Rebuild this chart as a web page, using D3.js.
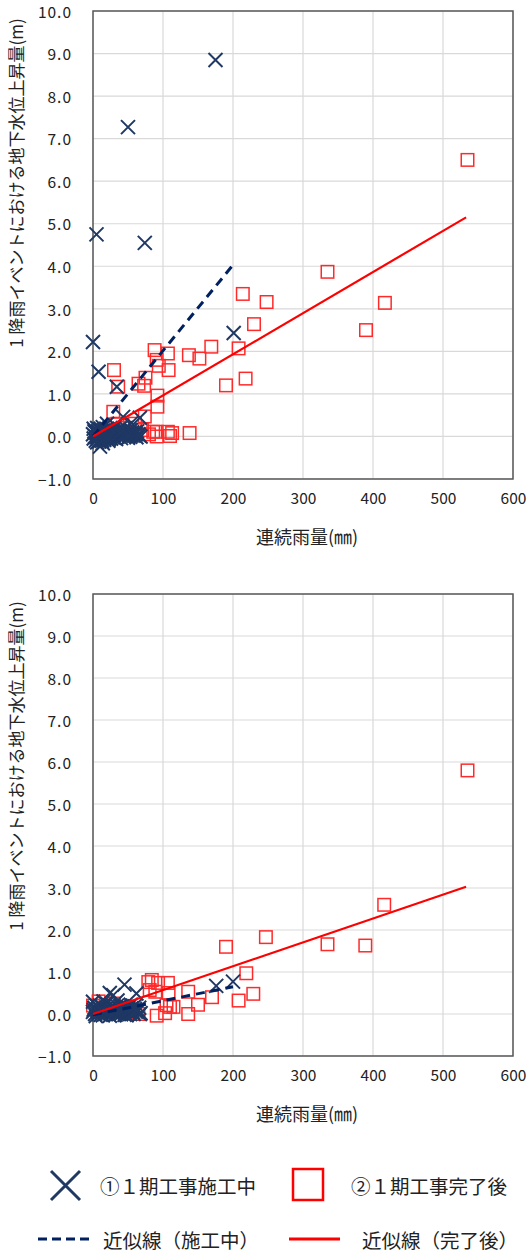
<!DOCTYPE html>
<html>
<head>
<meta charset="utf-8">
<script src="https://cdn.jsdelivr.net/npm/d3@7"></script>
<style>
  body { margin: 0; background: #fff; }
  svg { display: block; font-family: "Noto Sans CJK JP", "Noto Sans", sans-serif; }
</style>
</head>
<body>
<div id="chart"></div>
<script>
// values: [連続雨量 mm, 上昇量 m]
const xTicks = [0, 100, 200, 300, 400, 500, 600]
const yTicks = [-1, 0, 1, 2, 3, 4, 5, 6, 7, 8, 9, 10]

// upper chart, ① during construction (x markers)
const upperDuring = [
  [175, 8.85], [50, 7.27], [5, 4.75], [74, 4.55], [0, 2.22], [8, 1.52], [201, 2.43], [34, 1.17],
  [67, 0.44], [43, 0.46], [55, 0.32], [10, -0.24], [20, 0.3],
  [0, 0.05], [1, -0.05], [2, 0.12], [3, 0.0], [4, -0.1], [5, 0.08], [6, 0.2], [7, -0.02], [8, 0.05],
  [9, -0.12], [10, 0.15], [11, 0.02], [12, -0.05], [13, 0.1], [14, 0.22], [15, 0.0], [16, -0.08],
  [17, 0.06], [18, 0.16], [19, -0.03], [21, 0.04], [22, -0.1], [23, 0.12], [24, 0.0], [25, 0.2],
  [26, -0.05], [27, 0.08], [28, 0.15], [29, -0.02], [30, 0.05], [32, 0.25], [33, -0.06], [35, 0.1],
  [36, 0.02], [38, 0.18], [40, -0.04], [41, 0.07], [43, 0.12], [45, 0.0], [47, 0.2], [48, 0.05],
  [50, -0.03], [52, 0.1], [54, 0.15], [55, 0.02], [57, 0.06], [60, 0.1], [62, -0.02], [65, 0.05],
  [68, 0.0], [14, -0.16], [6, -0.14],
  [1, 0.18], [3, 0.1], [5, -0.02], [7, 0.12], [9, 0.03], [11, 0.18], [13, -0.1], [15, 0.14],
  [17, -0.04], [19, 0.08], [21, 0.16], [23, -0.06], [25, 0.04], [27, 0.14], [29, 0.1], [31, -0.04],
  [34, 0.04], [37, 0.08], [39, 0.12], [42, 0.02], [44, 0.16], [46, 0.06], [49, 0.12], [51, 0.04],
  [53, -0.01], [56, 0.1], [58, 0.02], [61, 0.05], [63, 0.12], [66, 0.02]
]
// upper chart, ② after completion (squares)
const upperAfter = [
  [535, 6.5], [335, 3.87], [417, 3.14], [390, 2.5], [214, 3.35], [248, 3.16], [230, 2.64], [208, 2.07],
  [169, 2.11], [137, 1.91], [152, 1.83], [88, 2.03], [107, 1.95], [91, 1.8], [94, 1.66], [108, 1.56],
  [30, 1.56], [190, 1.2], [218, 1.36], [36, 1.17], [65, 1.24], [75, 1.38], [73, 1.19], [92, 0.96],
  [92, 0.7], [138, 0.08], [107, 0.11], [110, 0.01], [91, 0.11], [91, 0.0], [29, 0.58], [74, 0.47],
  [86, 0.11], [113, 0.08], [20, 0.1], [45, 0.2], [60, 0.3], [50, 0.05], [70, 0.15], [10, 0.0],
  [80, 0.05], [35, 0.3]
]
const upperTrendDuring = [[0, 0], [200, 4.03]]
const upperTrendAfter = [[0, 0], [533, 5.15]]

// lower chart
const lowerDuring = [
  [176, 0.67], [200, 0.77], [45, 0.7], [29, 0.45], [62, 0.49], [24, 0.5], [0, 0.29],
  [0, 0.05], [2, 0.15], [4, -0.05], [6, 0.1], [8, 0.0], [10, 0.2], [12, 0.05], [14, -0.03],
  [16, 0.12], [18, 0.02], [20, 0.25], [22, 0.08], [24, -0.04], [26, 0.15], [28, 0.03], [30, 0.1],
  [32, -0.02], [34, 0.2], [36, 0.06], [38, 0.12], [40, 0.0], [42, 0.18], [44, 0.05], [46, 0.1],
  [48, -0.03], [50, 0.15], [52, 0.04], [54, 0.22], [56, 0.08], [58, 0.0], [60, 0.12], [63, 0.05],
  [66, 0.15], [68, 0.02], [15, 0.3], [35, 0.32],
  [1, 0.1], [3, 0.0], [5, 0.2], [7, 0.06], [9, 0.14], [11, -0.02], [13, 0.18], [15, 0.08],
  [17, 0.0], [19, 0.14], [21, 0.02], [23, 0.2], [25, 0.06], [27, 0.1], [29, 0.18], [31, 0.04],
  [33, 0.12], [37, 0.0], [39, 0.2], [41, 0.08], [43, 0.12], [45, -0.02], [47, 0.16], [49, 0.06],
  [51, 0.1], [53, 0.0], [55, 0.14], [57, 0.04], [59, 0.18], [61, 0.06], [64, 0.1], [67, 0.0]
]
const lowerAfter = [
  [535, 5.8], [416, 2.6], [247, 1.83], [190, 1.6], [335, 1.66], [389, 1.63], [219, 0.97], [229, 0.48],
  [208, 0.32], [170, 0.4], [150, 0.22], [136, 0.53], [136, 0.0], [107, 0.74], [93, 0.74], [84, 0.81],
  [110, 0.17], [79, 0.76], [81, 0.57], [89, 0.53], [108, 0.5], [105, 0.21], [115, 0.17], [103, 0.02],
  [91, -0.04], [8, 0.3], [0, 0.2], [20, 0.05], [40, 0.15], [55, 0.1], [65, 0.0], [30, 0.25], [12, 0.1]
]
const lowerTrendDuring = [[0, -0.02], [200, 0.65]]
const lowerTrendAfter = [[0, 0], [533, 3.03]]

const yTitle = "1 降雨イベントにおける地下水位上昇量(m)"
const xTitle = "連続雨量(㎜)"
const legendLabels = ["①１期工事施工中", "②１期工事完了後", "近似線（施工中）", "近似線（完了後）"]

const navy = "#1f3864"
const red = "#ff2a2a"

const width = 529
const height = 1256
const svg = d3.select("#chart").append("svg")
  .attr("width", width)
  .attr("height", height)

svg.append("rect").attr("width", width).attr("height", height).attr("fill", "#fff")

const x = d3.scaleLinear().domain([0, 600]).range([93, 513])

function drawChart(top, bottom, during, after, trendDuring, trendAfter) {
  const y = d3.scaleLinear().domain([-1, 10]).range([bottom, top])
  const g = svg.append("g")

  // grid
  g.append("g").selectAll("line.h").data(yTicks).join("line")
    .attr("x1", x(0)).attr("x2", x(600))
    .attr("y1", d => y(d)).attr("y2", d => y(d))
    .attr("stroke", "#d9d9d9").attr("stroke-width", 1.2)
  g.append("g").selectAll("line.v").data(xTicks).join("line")
    .attr("x1", d => x(d)).attr("x2", d => x(d))
    .attr("y1", y(-1)).attr("y2", y(10))
    .attr("stroke", "#d9d9d9").attr("stroke-width", 1.2)

  // frame
  g.append("rect")
    .attr("x", x(0)).attr("y", y(10))
    .attr("width", x(600) - x(0)).attr("height", y(-1) - y(10))
    .attr("fill", "none").attr("stroke", "#595959").attr("stroke-width", 1.5)

  // axes (labels only)
  const ax = g.append("g")
    .attr("transform", `translate(0,${bottom})`)
    .call(d3.axisBottom(x).tickValues(xTicks).tickSize(0).tickPadding(14).tickFormat(d3.format("d")))
  const ay = g.append("g")
    .attr("transform", `translate(${x(0)},0)`)
    .call(d3.axisLeft(y).tickValues(yTicks).tickSize(0).tickPadding(21).tickFormat(d3.format(".1f")))
  for (const a of [ax, ay]) {
    a.select(".domain").remove()
    a.selectAll("text").attr("font-size", 15.5).attr("fill", "#222")
      .attr("font-family", "'Noto Sans CJK JP', sans-serif")
  }
  ay.selectAll("text").attr("letter-spacing", 1).attr("dy", "0.4em")

  // squares
  const s = 12.5
  g.append("g").selectAll("rect").data(after).join("rect")
    .attr("x", d => x(d[0]) - s / 2).attr("y", d => y(d[1]) - s / 2)
    .attr("width", s).attr("height", s)
    .attr("fill", "none").attr("stroke", red).attr("stroke-width", 1.5)

  // crosses
  const h = 7
  g.append("g").selectAll("path").data(during).join("path")
    .attr("d", d => {
      const cx = x(d[0]), cy = y(d[1])
      return `M${cx - h},${cy - h}L${cx + h},${cy + h}M${cx - h},${cy + h}L${cx + h},${cy - h}`
    })
    .attr("stroke", navy).attr("stroke-width", 2).attr("fill", "none")

  const line = d3.line().x(d => x(d[0])).y(d => y(d[1]))
  g.append("path").datum(trendDuring).attr("d", line)
    .attr("stroke", "#002060").attr("stroke-width", 3).attr("stroke-dasharray", "9,6").attr("fill", "none")
  g.append("path").datum(trendAfter).attr("d", line)
    .attr("stroke", "#ff0000").attr("stroke-width", 2.2).attr("fill", "none")

  // titles
  g.append("text")
    .attr("transform", `translate(15,${top + 172}) rotate(-90)`)
    .attr("text-anchor", "middle").attr("dominant-baseline", "central")
    .attr("font-size", 17).attr("fill", "#222")
    .text(yTitle)
  g.append("text")
    .attr("x", 307).attr("y", bottom + 65)
    .attr("text-anchor", "middle")
    .attr("font-size", 18).attr("fill", "#222")
    .text(xTitle)
}

drawChart(11, 479, upperDuring, upperAfter, upperTrendDuring, upperTrendAfter)
drawChart(594, 1056, lowerDuring, lowerAfter, lowerTrendDuring, lowerTrendAfter)

// legend
const lg = svg.append("g")
lg.append("path")
  .attr("d", "M51,1171L80,1200M51,1200L80,1171")
  .attr("stroke", navy).attr("stroke-width", 3).attr("fill", "none")
lg.append("rect")
  .attr("x", 293).attr("y", 1169).attr("width", 30).attr("height", 31)
  .attr("fill", "none").attr("stroke", "#ff0000").attr("stroke-width", 2.5)
lg.append("line")
  .attr("x1", 38).attr("x2", 91).attr("y1", 1239).attr("y2", 1239)
  .attr("stroke", "#002060").attr("stroke-width", 3).attr("stroke-dasharray", "9,5")
lg.append("line")
  .attr("x1", 289).attr("x2", 340).attr("y1", 1239).attr("y2", 1239)
  .attr("stroke", "#ff0000").attr("stroke-width", 3)
lg.selectAll("text").data(legendLabels).join("text")
  .attr("x", (d, i) => [100, 351, 103, 362][i])
  .attr("y", (d, i) => i < 2 ? 1185 : 1239)
  .attr("dominant-baseline", "central")
  .attr("font-size", 19.5).attr("fill", "#222")
  .text(d => d)
</script>
</body>
</html>
